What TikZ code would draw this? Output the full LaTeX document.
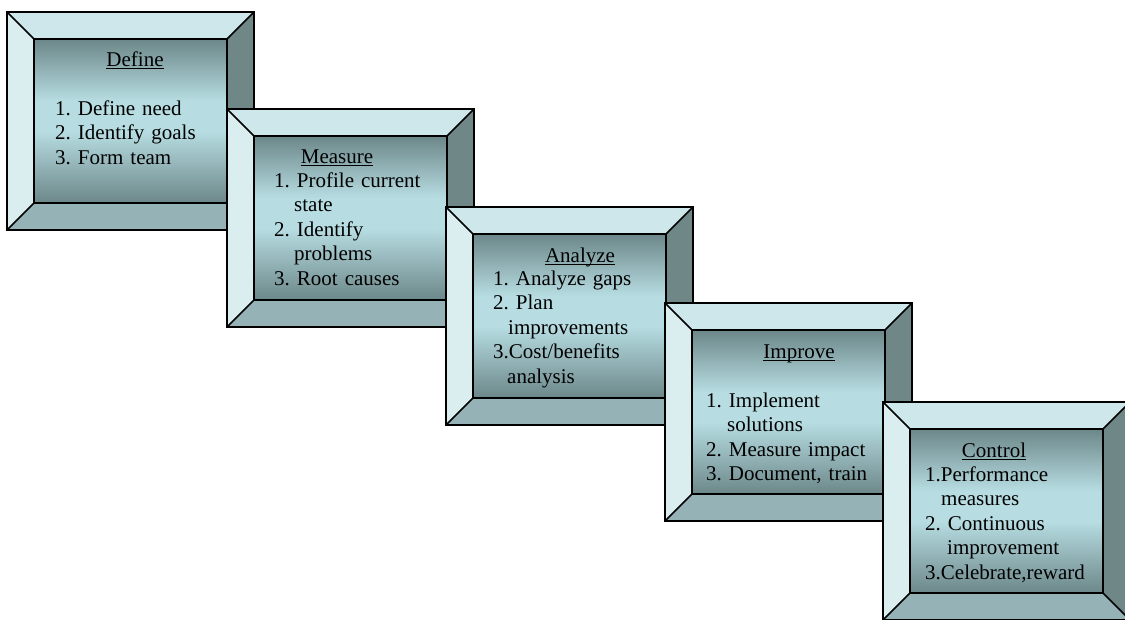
\documentclass[tikz,border=0pt]{standalone}
\usepackage{fontspec}
\setmainfont{Liberation Serif}
\frenchspacing

%Farben
\definecolor{bvtop}{RGB}{205,231,234}
\definecolor{bvleft}{RGB}{218,237,239}
\definecolor{bvright}{RGB}{111,135,135}
\definecolor{bvbottom}{RGB}{149,179,182}
\definecolor{facedark}{RGB}{108,135,137}
\definecolor{facelight}{RGB}{183,221,226}
\pgfdeclareverticalshading{faceshade}{100bp}{color(0bp)=(facedark); color(25bp)=(facedark);
	color(47bp)=(facelight); color(56bp)=(facelight); color(75bp)=(facedark); color(100bp)=(facedark)}

\begin{document}
\begin{tikzpicture}[x=1pt,y=-1pt,
	title/.style={anchor=base, inner sep=0pt, font=\fontsize{21}{24.5}\selectfont},
	items/.style={anchor=base west, inner sep=0pt, text width=200pt, align=left, font=\fontsize{21}{24.5}\selectfont}]
\useasboundingbox (0,0) rectangle (1125,619);

%Kaesten
\foreach \x/\y in {7/12,227/109,446/207,665/303,883/402}{
	\fill[bvtop] (\x,\y)--++(247,0)--++(-27,27)--++(-193,0)--cycle;
	\fill[bvleft] (\x,\y)--++(27,27)--++(0,164)--++(-27,27)--cycle;
	\fill[bvright] (\x+247,\y)--++(0,218)--++(-27,-27)--++(0,-164)--cycle;
	\fill[bvbottom] (\x,\y+218)--++(247,0)--++(-27,-27)--++(-193,0)--cycle;
	\shade[shading=faceshade] (\x+27,\y+27) rectangle ++(193,164);
	\draw[line width=1.5pt] (\x+27,\y+27) rectangle ++(193,164);
	\draw[line width=1.5pt] (\x,\y)--++(27,27) (\x+247,\y)--++(-27,27)
		(\x,\y+218)--++(27,-27) (\x+247,\y+218)--++(-27,-27);
	\draw[line width=1.5pt] (\x,\y) rectangle ++(247,218);
}

%Define
\node[title] (deftitle) at (135,66) {Define};
\node[items] (defitems) at (55,115) {1. Define need\\2. Identify goals\\3. Form team};

%Measure
\node[title] (meatitle) at (337,163) {Measure};
\node[items] (meaitems) at (274,187) {1. Profile current\\\hspace*{20pt}state\\2. Identify\\\hspace*{20pt}problems\\3. Root causes};

%Analyze
\node[title] (anatitle) at (580,262) {Analyze};
\node[items] (anaitems) at (493,285) {1. Analyze gaps\\2. Plan\\\hspace*{15pt}improvements\\3.Cost/benefits\\\hspace*{14pt}analysis};

%Improve
\node[title] (imptitle) at (799,358) {Improve};
\node[items] (impitems) at (706,407) {1. Implement\\\hspace*{21pt}solutions\\2. Measure impact\\3. Document, train};

%Control
\node[title] (contitle) at (994,457) {Control};
\node[items] (conitems) at (925,481) {1.Performance\\\hspace*{16pt}measures\\2. Continuous\\\hspace*{22pt}improvement\\3.Celebrate,reward};

%Unterstreichen
\foreach \t in {deftitle,meatitle,anatitle,imptitle,contitle}
	\draw[line width=0.8pt] ([yshift=-2.5pt]\t.base west)--([yshift=-2.5pt]\t.base east);

\end{tikzpicture}
\end{document}
